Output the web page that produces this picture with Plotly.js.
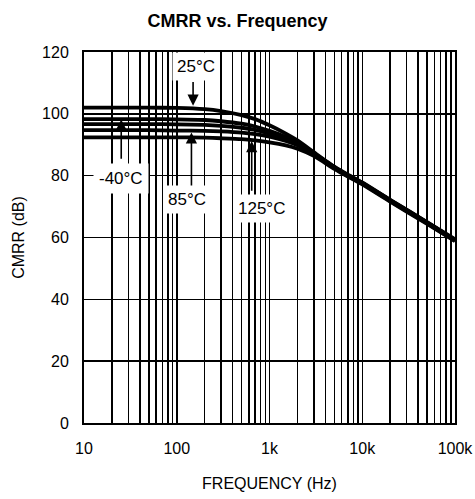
<!DOCTYPE html>
<html>
<head>
<meta charset="utf-8">
<script src="https://cdn.plot.ly/plotly-3.0.1.min.js"></script>
<style>html,body{margin:0;padding:0;background:#fff;}#chart{width:475px;height:499px;}</style>
</head>
<body>
<div id="chart"></div>
<script>
// Frequency points (Hz)
var freq = [10, 20, 50, 100, 200, 300, 500, 700, 1000, 1500, 2000, 3000, 5000, 7000, 10000, 20000, 50000, 100000];
// CMRR (dB) curves, top to bottom
var cmrr25 = [102, 102, 102, 101.9, 101.5, 100.9, 99.6, 98.3, 96.3, 93.6, 91.4, 87.6, 82.9, 80.3, 77.8, 72.2, 65.0, 59.4];
var cmrrM40 = [98.3, 98.3, 98.3, 98.2, 98, 97.6, 96.8, 95.9, 94.5, 92.5, 90.7, 87.3, 82.8, 80.2, 77.7, 72.1, 64.9, 59.3];
var cmrrMid = [96.7, 96.7, 96.7, 96.6, 96.4, 96.1, 95.5, 94.8, 93.6, 91.9, 90.3, 87.1, 82.6, 80.1, 77.6, 72, 64.8, 59.2];
var cmrr85 = [94.7, 94.7, 94.7, 94.6, 94.5, 94.3, 93.9, 93.4, 92.6, 91.2, 89.8, 86.9, 82.4, 79.9, 77.4, 71.8, 64.6, 59.0];
var cmrr125 = [92.4, 92.4, 92.4, 92.4, 92.3, 92.1, 91.8, 91.4, 90.8, 89.8, 88.7, 86.4, 82.2, 79.7, 77.2, 71.6, 64.4, 58.8];
var seriesNames = ['25°C', '-40°C', 'mid', '85°C', '125°C'];
var seriesData = [cmrr25, cmrrM40, cmrrMid, cmrr85, cmrr125];

// Axis ticks
var xMajor = [10, 100, 1000, 10000, 100000];
var xMajorText = ['10', '100', '1k', '10k', '100k'];
var yTicks = [0, 20, 40, 60, 80, 100, 120];
var yTickText = ['0', '20', '40', '60', '80', '100', '120'];

// Tick values including minor grid lines (2..9 per decade)
var xTickVals = [], xTickText = [];
for (var d = 0; d < xMajor.length; d++) {
  for (var m = 1; m <= 9; m++) {
    if (d === xMajor.length - 1 && m > 1) break;
    xTickVals.push(xMajor[d] * m);
    xTickText.push(m === 1 ? xMajorText[d] : '');
  }
}

var FONT = 'Liberation Sans, Arial, Helvetica, sans-serif';

var traces = seriesData.map(function (vals, i) {
  return {
    x: freq, y: vals, name: seriesNames[i], type: 'scatter', mode: 'lines',
    line: {color: '#000', width: 3.8, shape: 'spline', smoothing: 0.6},
    hoverinfo: 'skip'
  };
});

function L(f) { return Math.log10(f); }

var labelFont = {family: FONT, size: 17, color: '#000'};
var arrowStyle = {xref: 'x', yref: 'y', axref: 'x', ayref: 'y', text: '', showarrow: true, arrowhead: 2, arrowsize: 1.4, arrowwidth: 1.6, arrowcolor: '#000', standoff: 0};
function arrow(f, yHead, yTail) {
  var a = {x: L(f), y: yHead, ax: L(f), ay: yTail};
  for (var k in arrowStyle) a[k] = arrowStyle[k];
  return a;
}
var annotations = [
  // labels
  {x: L(160), y: 115.2, xref: 'x', yref: 'y', text: '25°C', showarrow: false, font: labelFont, bgcolor: '#fff', borderpad: 4},
  {x: L(25.2), y: 79.2, xref: 'x', yref: 'y', text: '-40°C', showarrow: false, font: labelFont, bgcolor: '#fff', borderpad: 5},
  {x: L(130), y: 72.4, xref: 'x', yref: 'y', text: '85°C', showarrow: false, font: labelFont, bgcolor: '#fff', borderpad: 4},
  {x: L(810), y: 69.5, xref: 'x', yref: 'y', text: '125°C', showarrow: false, font: labelFont, bgcolor: '#fff', borderpad: 4},
  // arrows
  arrow(150, 102.6, 110.8),
  arrow(25.2, 98.2, 85),
  arrow(144, 94.0, 76.3),
  arrow(643, 91.2, 74.6)
];

var layout = {
  width: 475, height: 499,
  margin: {l: 84, r: 20, t: 52, b: 76, pad: 0},
  paper_bgcolor: '#fff', plot_bgcolor: '#fff',
  showlegend: false,
  font: {family: FONT, size: 16, color: '#000'},
  title: {text: '<b>CMRR vs. Frequency</b>', font: {family: FONT, size: 18, color: '#000'}, x: 0.5, xanchor: 'center', y: 0.958, yanchor: 'middle', yref: 'container'},
  xaxis: {
    type: 'log', range: [1, 5], tickmode: 'array', tickvals: xTickVals, ticktext: xTickText,
    showgrid: true, gridcolor: '#000', gridwidth: 1.5, zeroline: false,
    showline: true, linecolor: '#000', linewidth: 2, mirror: true,
    ticks: '', ticklabelstandoff: 10, tickfont: {family: FONT, size: 16, color: '#000'},
    title: {text: 'FREQUENCY (Hz)', font: {family: FONT, size: 16, color: '#000'}, standoff: 22},
    fixedrange: true
  },
  yaxis: {
    range: [0, 120], tickmode: 'array', tickvals: yTicks, ticktext: yTickText,
    showgrid: true, gridcolor: '#000', gridwidth: 1.5, zeroline: false,
    showline: true, linecolor: '#000', linewidth: 2, mirror: true,
    ticks: '', ticklabelstandoff: 10, tickfont: {family: FONT, size: 16, color: '#000'},
    title: {text: 'CMRR (dB)', font: {family: FONT, size: 16, color: '#000'}, standoff: 13},
    fixedrange: true
  },
  annotations: annotations
};

Plotly.newPlot('chart', traces, layout, {displayModeBar: false, staticPlot: true});
</script>
</body>
</html>
